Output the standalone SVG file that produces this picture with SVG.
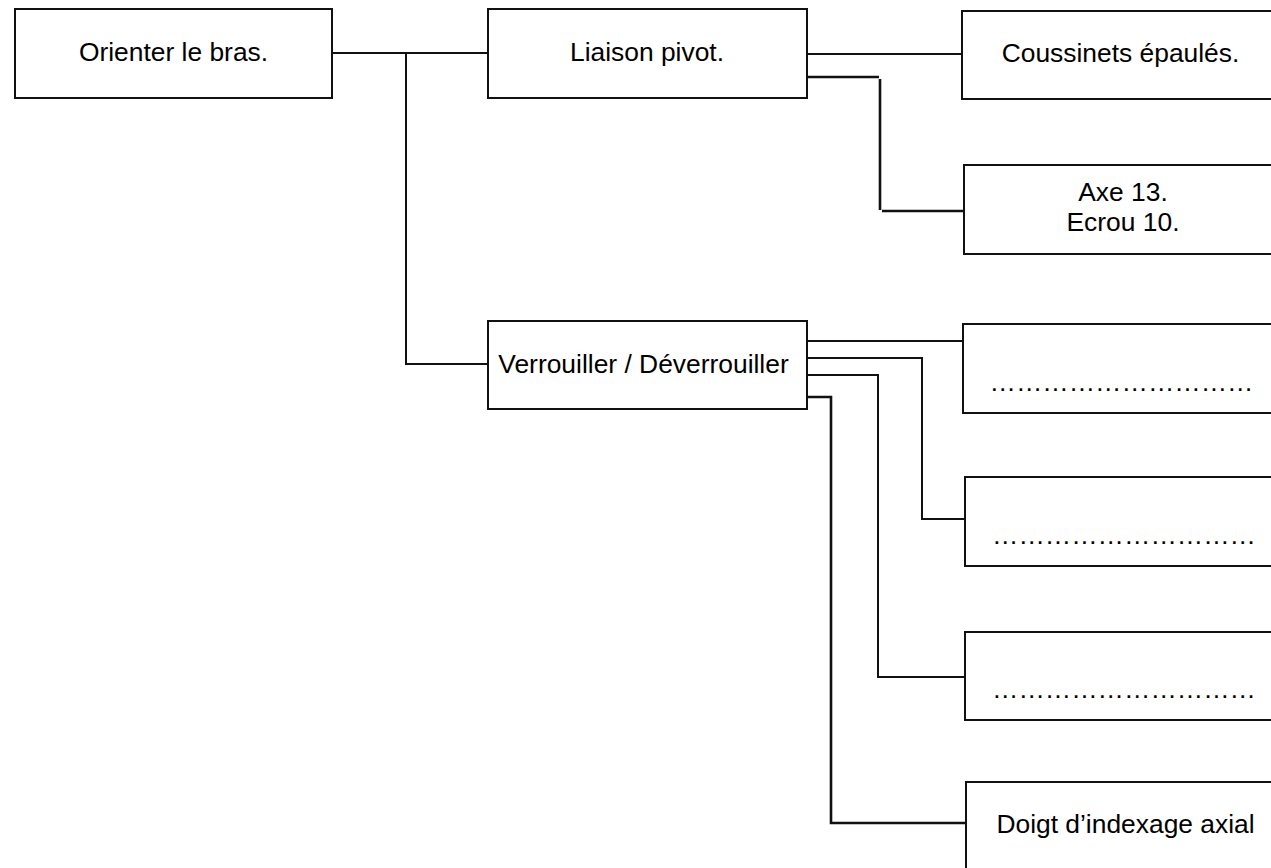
<svg xmlns="http://www.w3.org/2000/svg" width="1271" height="868" viewBox="0 0 1271 868">
<style>
.box{fill:#fff;stroke:#111;stroke-width:2}
.t{font-family:"Liberation Sans",Arial,sans-serif;font-size:26.4px;fill:#000;text-anchor:middle}
.c{fill:none;stroke:#111;stroke-width:2}
.ct{fill:none;stroke:#111;stroke-width:2.6}
</style>
<rect width="1271" height="868" fill="#fff"/>
<g id="connectors">
<path class="c" d="M332 53 H488"/>
<path class="c" d="M406 53 V364 H488"/>
<path class="c" d="M807 54 H962"/>
<path class="ct" d="M807 77 H879"/>
<path class="ct" d="M880 79 V210"/>
<path class="ct" d="M882 211 H964"/>
<path class="c" d="M807 341 H963"/>
<path class="c" d="M807 358 H922 V519 H965"/>
<path class="c" d="M807 375 H878 V677 H965"/>
<path class="ct" d="M807 397 H831 V823 H966"/>
</g>
<g id="n1"><rect class="box" x="15" y="9" width="317" height="89"/><text class="t" x="173.5" y="61">Orienter le bras.</text></g>
<g id="n2"><rect class="box" x="488" y="9" width="319" height="89"/><text class="t" x="647" y="61">Liaison pivot.</text></g>
<g id="n3"><rect class="box" x="962" y="11" width="318" height="88"/><text class="t" x="1120.5" y="62">Coussinets épaulés.</text></g>
<g id="n4"><rect class="box" x="964" y="165" width="316" height="89"/><text class="t" x="1123" y="201">Axe 13.</text><text class="t" x="1123" y="231">Ecrou 10.</text></g>
<g id="n5"><rect class="box" x="488" y="321" width="319" height="88"/><text class="t" x="643.5" y="373">Verrouiller / Déverrouiller</text></g>
<g id="n6"><rect class="box" x="963" y="324" width="316" height="89"/><text class="t" x="1121.5" y="391">…………………………</text></g>
<g id="n7"><rect class="box" x="965" y="477" width="316" height="89"/><text class="t" x="1124" y="544">…………………………</text></g>
<g id="n8"><rect class="box" x="965" y="632" width="316" height="88"/><text class="t" x="1124" y="698">…………………………</text></g>
<g id="n9"><rect class="box" x="966" y="782" width="316" height="100"/><text class="t" x="1125.5" y="833">Doigt d’indexage axial</text></g>
</svg>
